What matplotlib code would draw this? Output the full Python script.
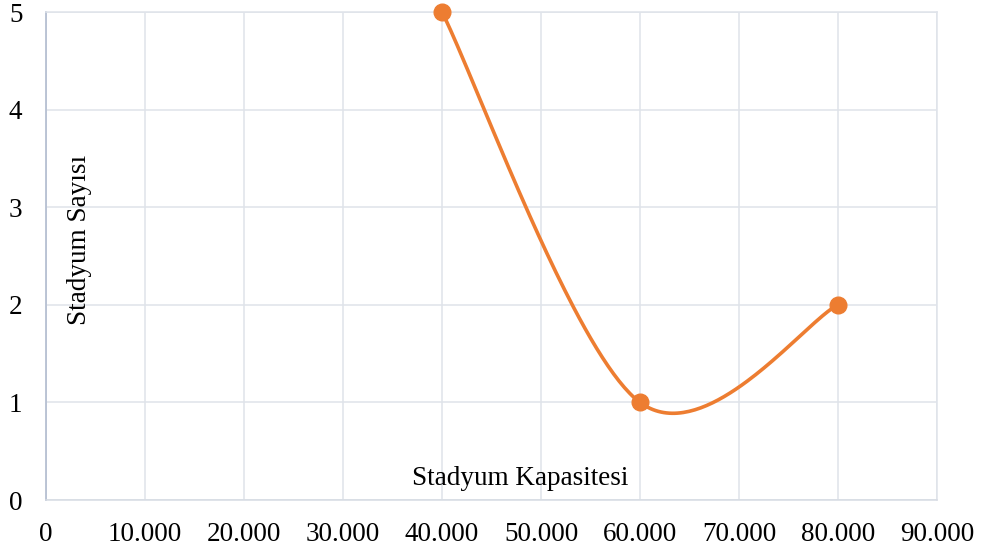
import numpy as np
import matplotlib
matplotlib.use("Agg")
import matplotlib.pyplot as plt

# ===== Data =====
capacity = [40000, 60000, 80000]
stadium_count = [5, 1, 2]
x_ticks = [0, 10000, 20000, 30000, 40000, 50000, 60000, 70000, 80000, 90000]
x_tick_labels = ["0", "10.000", "20.000", "30.000", "40.000", "50.000",
                 "60.000", "70.000", "80.000", "90.000"]
y_ticks = [0, 1, 2, 3, 4, 5]

plt.rcParams['font.family'] = ['Liberation Serif', 'DejaVu Serif']

# ===== Excel-style smoothed line (Bezier through the points) =====
def smooth_curve(xs, ys, n=80):
    pts = np.column_stack([xs, ys]).astype(float)
    out = []
    for i in range(len(pts) - 1):
        p0 = pts[max(i - 1, 0)]
        p1 = pts[i]
        p2 = pts[i + 1]
        p3 = pts[min(i + 2, len(pts) - 1)]
        c1 = p1 + (p2 - p0) / 6
        c2 = p2 - (p3 - p1) / 6
        t = np.linspace(0, 1, n)[:, None]
        seg = ((1 - t) ** 3) * p1 + 3 * ((1 - t) ** 2) * t * c1 \
            + 3 * (1 - t) * t ** 2 * c2 + t ** 3 * p2
        out.append(seg)
    out = np.vstack(out)
    return out[:, 0], out[:, 1]

sx, sy = smooth_curve(capacity, stadium_count)

fig = plt.figure(figsize=(9.82, 5.5), dpi=100)
ax = fig.add_axes([46 / 982, 50 / 550, 891 / 982, 488 / 550])

ax.plot(sx, sy, color="#ED7D31", lw=2.6, zorder=3, clip_on=False)
ax.plot(capacity, stadium_count, "o", color="#ED7D31", ms=12, zorder=4, clip_on=False)

ax.set_xlim(0, 90000)
ax.set_ylim(0, 5)
ax.set_xticks(x_ticks)
ax.set_xticklabels(x_tick_labels)
ax.set_yticks(y_ticks)
ax.grid(True, color="#dfe3ea", lw=1.1)
ax.set_axisbelow(True)

for side in ["top", "right"]:
    ax.spines[side].set_color("#dfe3ea")
    ax.spines[side].set_linewidth(1.1)
ax.spines["bottom"].set_color("#d6dbe3")
ax.spines["bottom"].set_linewidth(1.1)
ax.spines["left"].set_color("#b6c0d2")
ax.spines["left"].set_linewidth(1.3)

ax.tick_params(axis="both", length=0, labelsize=19.5, colors="black")
ax.tick_params(axis="x", pad=15.5)
ax.tick_params(axis="y", pad=17)

ax.text(0.038, 0.533, "Stadyum Sayısı", transform=ax.transAxes, rotation=90,
        ha="center", va="center", fontsize=19.5)
ax.text(0.532, 0.045, "Stadyum Kapasitesi", transform=ax.transAxes,
        ha="center", va="center", fontsize=19.5)

fig.savefig("out.png", dpi=100)
